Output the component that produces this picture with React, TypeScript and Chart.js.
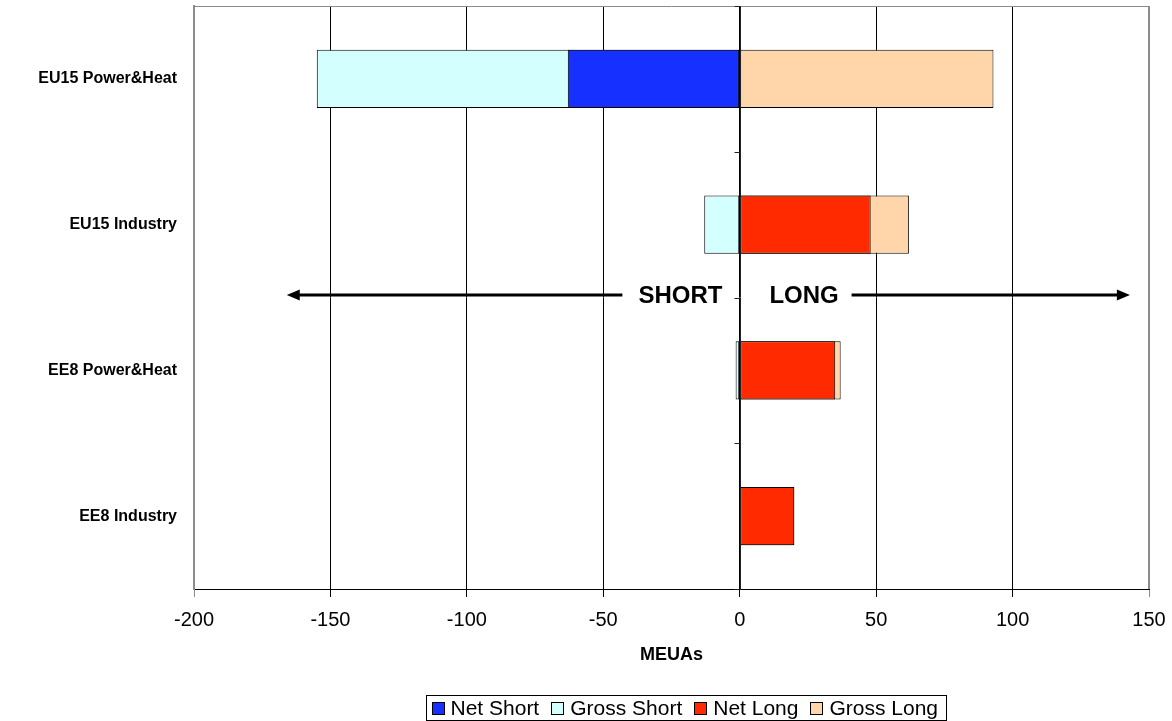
import React, { useEffect, useRef } from "react";
import { Chart, registerables } from "chart.js";

Chart.register(...registerables);

// Sectors shown on the category axis (top to bottom)
const categories = ["EU15 Power&Heat", "EU15 Industry", "EE8 Power&Heat", "EE8 Industry"];

// Positions in MEUAs per sector
const netShort = [-63, null, null, null];
const grossShort = [-155, -13, -1.5, null];
const netLong = [null, 48, 35, 20];
const grossLong = [93, 62, 37, 20];

// Value axis range
const xMin = -200;
const xMax = 150;
const xStep = 50;

// SHORT / LONG direction marker, in axis units
const arrowRow = 1.48;
const shortArrowFrom = -43;
const shortArrowTo = -166;
const longArrowFrom = 41;
const longArrowTo = 143;
const shortLabelEnd = -6.3;
const longLabelStart = 10.9;

const FONT = "'Liberation Sans', Arial, Helvetica, sans-serif";

const frameAndNotes = {
  id: "frameAndNotes",
  afterDatasetsDraw(chart: any) {
    const { ctx, chartArea, scales } = chart;
    const x = scales.x;
    const y = scales.y;
    ctx.save();

    // top and right plot border
    ctx.strokeStyle = "#8c8c8c";
    ctx.lineWidth = 1;
    ctx.beginPath();
    ctx.moveTo(chartArea.left, chartArea.top + 0.5);
    ctx.lineTo(chartArea.right, chartArea.top + 0.5);
    ctx.stroke();
    ctx.lineWidth = 2;
    ctx.beginPath();
    ctx.moveTo(chartArea.right, chartArea.top);
    ctx.lineTo(chartArea.right, chartArea.bottom);
    ctx.stroke();

    // category axis crossing at zero, with tick marks between sectors
    const x0 = Math.round(x.getPixelForValue(0)) + 0.5;
    ctx.strokeStyle = "#222";
    ctx.lineWidth = 1;
    ctx.beginPath();
    ctx.moveTo(x0, chartArea.top);
    ctx.lineTo(x0, chartArea.bottom);
    for (let i = 0; i <= categories.length; i++) {
      const yy = Math.round(y.getPixelForValue(i - 0.5)) + 0.5;
      ctx.moveTo(x0 - 6, yy);
      ctx.lineTo(x0, yy);
    }
    ctx.stroke();

    // direction marker
    const ay = Math.round(y.getPixelForValue(arrowRow));
    ctx.strokeStyle = "#000";
    ctx.fillStyle = "#000";
    ctx.lineWidth = 3;
    const drawArrow = (fromV: number, toV: number) => {
      const fx = x.getPixelForValue(fromV);
      const tx = x.getPixelForValue(toV);
      const dir = tx > fx ? 1 : -1;
      ctx.beginPath();
      ctx.moveTo(fx, ay);
      ctx.lineTo(tx - dir * 8, ay);
      ctx.stroke();
      ctx.beginPath();
      ctx.moveTo(tx, ay);
      ctx.lineTo(tx - dir * 13, ay - 5.5);
      ctx.lineTo(tx - dir * 13, ay + 5.5);
      ctx.closePath();
      ctx.fill();
    };
    drawArrow(shortArrowFrom, shortArrowTo);
    drawArrow(longArrowFrom, longArrowTo);

    ctx.font = `bold 24px ${FONT}`;
    ctx.textBaseline = "middle";
    ctx.textAlign = "right";
    ctx.fillText("SHORT", x.getPixelForValue(shortLabelEnd), ay + 1);
    ctx.textAlign = "left";
    ctx.fillText("LONG", x.getPixelForValue(longLabelStart), ay + 1);

    // value axis title
    ctx.font = `bold 18px ${FONT}`;
    ctx.textAlign = "center";
    ctx.fillText("MEUAs", (chartArea.left + chartArea.right) / 2, 655);

    // boxed legend
    const items = chart.data.datasets.map((d: any) => ({
      label: d.label,
      color: d.backgroundColor,
    }));
    ctx.font = `21px ${FONT}`;
    const sq = 13;
    const gapText = 6;
    const gapItem = 12;
    const padL = 5;
    const padR = 8;
    const widths = items.map((it: any) => ctx.measureText(it.label).width);
    let total = padL + padR + gapItem * (items.length - 1);
    widths.forEach((w: number) => (total += sq + gapText + w));
    const cx = 686;
    const boxLeft = Math.round(cx - total / 2) + 0.5;
    const boxTop = 695.5;
    const boxH = 25;
    ctx.strokeStyle = "#000";
    ctx.lineWidth = 1;
    ctx.strokeRect(boxLeft, boxTop, Math.round(total), boxH);
    let cursor = boxLeft + padL;
    const cy = boxTop + boxH / 2;
    ctx.textAlign = "left";
    ctx.textBaseline = "middle";
    items.forEach((it: any, i: number) => {
      ctx.fillStyle = it.color;
      ctx.fillRect(Math.round(cursor), Math.round(cy - sq / 2), sq, sq);
      ctx.strokeStyle = "#000";
      ctx.strokeRect(Math.round(cursor) + 0.5, Math.round(cy - sq / 2) + 0.5, sq - 1, sq - 1);
      cursor += sq + gapText;
      ctx.fillStyle = "#000";
      ctx.fillText(it.label, cursor, cy + 1);
      cursor += widths[i] + gapItem;
    });

    ctx.restore();
  },
};

export default function App() {
  const canvasRef = useRef<HTMLCanvasElement | null>(null);

  useEffect(() => {
    if (!canvasRef.current) return;
    const chart = new Chart(canvasRef.current, {
      type: "bar",
      data: {
        labels: categories,
        datasets: [
          { label: "Net Short", data: netShort, backgroundColor: "#1530ff" },
          { label: "Gross Short", data: grossShort, backgroundColor: "#d4ffff" },
          { label: "Net Long", data: netLong, backgroundColor: "#ff2a00" },
          { label: "Gross Long", data: grossLong, backgroundColor: "#ffd6aa" },
        ] as any,
      },
      options: {
        indexAxis: "y",
        responsive: false,
        animation: false,
        devicePixelRatio: 1,
        layout: { padding: { top: 6, right: 23, left: 0, bottom: 0 } },
        datasets: {
          bar: {
            grouped: false,
            categoryPercentage: 0.4,
            barPercentage: 1,
            borderColor: "#000",
            borderWidth: 1,
            borderSkipped: false,
          },
        },
        plugins: {
          legend: { display: false },
          tooltip: { enabled: false },
        },
        scales: {
          x: {
            min: xMin,
            max: xMax,
            ticks: {
              stepSize: xStep,
              color: "#000",
              font: { family: FONT, size: 20, lineHeight: 1.7 },
              padding: 6,
            },
            grid: {
              color: (c: any) =>
                c.tick && (c.tick.value === xMin || c.tick.value === xMax) ? "#8c8c8c" : "#000",
              lineWidth: 1,
              tickLength: 8,
            },
            border: { color: "#000", width: 1 },
            afterFit: (s: any) => {
              s.height = 132;
            },
          },
          y: {
            ticks: {
              color: "#000",
              font: { family: FONT, size: 16, weight: "bold", lineHeight: 0.7 },
              padding: 0,
            },
            grid: { display: true, drawOnChartArea: false, drawTicks: true, tickLength: 17, tickColor: "rgba(0,0,0,0)" },
            border: { color: "#8c8c8c", width: 2 },
            afterFit: (s: any) => {
              s.width = 194;
            },
          },
        },
      },
      plugins: [frameAndNotes],
    });
    return () => chart.destroy();
  }, []);

  return (
    <div style={{ position: "absolute", left: 0, top: 0, width: 1172, height: 721, background: "#fff" }}>
      <canvas ref={canvasRef} width={1172} height={721} style={{ display: "block" }} />
    </div>
  );
}
